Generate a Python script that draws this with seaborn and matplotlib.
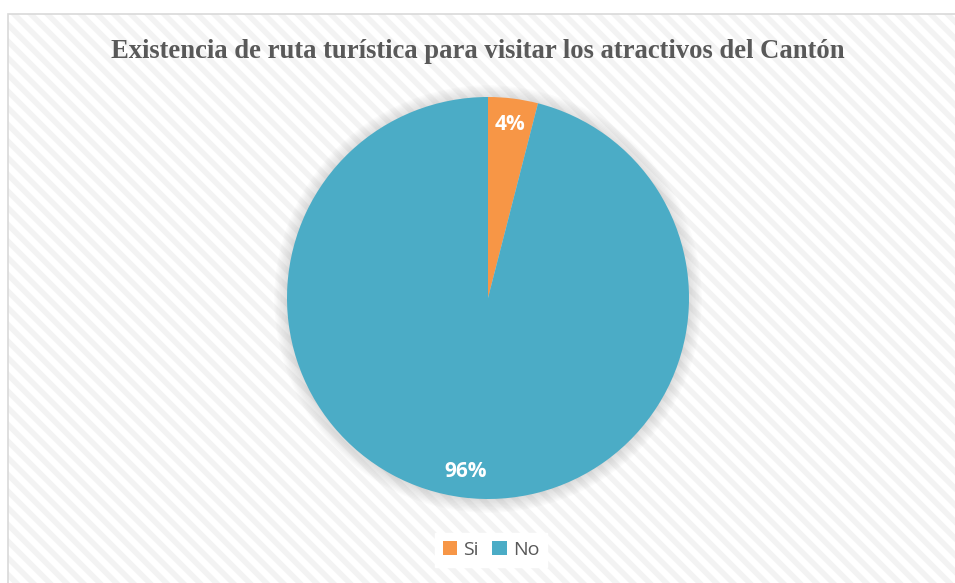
import numpy as np
import matplotlib
matplotlib.use("Agg")
import matplotlib.pyplot as plt
import seaborn as sns
from matplotlib.patches import Rectangle, Circle

categories = ["Si", "No"]
values = [4, 96]
colors = ["#F79646", "#4BACC6"]

sns.set_style("white")
plt.rcParams["hatch.linewidth"] = 4
plt.rcParams["hatch.color"] = "#F3F3F3"

fig = plt.figure(figsize=(9.55, 5.83), dpi=100)

# hatched chart area
bg = Rectangle((8 / 955, -0.01), 1.0, (583 - 14) / 583 + 0.01, transform=fig.transFigure,
               facecolor="white", edgecolor="#F3F3F3", hatch="\\\\", linewidth=0, zorder=-2)
fig.patches.append(bg)
frame = Rectangle((8 / 955, -0.01), 1.0, (583 - 14) / 583 + 0.01, transform=fig.transFigure,
                  facecolor="none", edgecolor="#D9D9D9", linewidth=1.2, zorder=-1)
fig.patches.append(frame)

fig.text(0.5, (583 - 52) / 583, "Existencia de ruta turística para visitar los atractivos del Cantón",
         ha="center", va="center", fontsize=19.2, fontweight="bold",
         family="Liberation Serif", color="#595959")

ax = fig.add_axes([(488 - 201) / 955, (583 - 499) / 583, 402 / 955, 402 / 583])
ax.set_facecolor("none")

# soft shadow
for i in range(10):
    ax.add_patch(Circle((0, -0.005), 1.0 + i * 0.007, facecolor="#707070",
                        alpha=0.022, linewidth=0, zorder=0, clip_on=False))

wedges, texts, autotexts = ax.pie(values, colors=colors, startangle=90, counterclock=False,
                                  autopct="%1.0f%%", pctdistance=0.87,
                                  wedgeprops=dict(linewidth=0, zorder=2),
                                  textprops=dict(color="white", fontsize=15, fontweight="bold",
                                                 family="Open Sans"))
for t in autotexts:
    t.set_zorder(5)
ax.set_xlim(-1, 1)
ax.set_ylim(-1, 1)
ax.set_aspect("equal")
ax.axis("off")

leg = fig.legend(wedges, categories, loc="center", bbox_to_anchor=(491 / 955, (583 - 550) / 583),
                 ncol=2, frameon=True, fancybox=False, framealpha=1, edgecolor="white",
                 facecolor="white", handlelength=0.75, handleheight=0.75, handletextpad=0.3,
                 columnspacing=0.7, prop=dict(family="Open Sans", size=14))
for t in leg.get_texts():
    t.set_color("#595959")

fig.savefig("out.png", dpi=100)
